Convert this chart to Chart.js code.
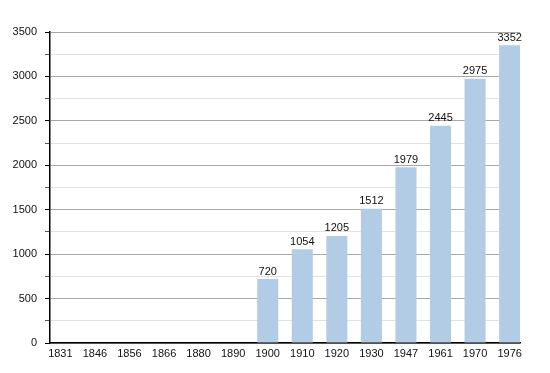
<!DOCTYPE html>
<html>
<head>
<meta charset="utf-8">
<script src="https://cdn.jsdelivr.net/npm/chart.js"></script>
<style>
  html, body { margin: 0; padding: 0; background: #fff; }
  #wrap { width: 550px; height: 373px; }
</style>
</head>
<body>
<div id="wrap"><canvas id="chart"></canvas></div>
<script>
const years = ['1831', '1846', '1856', '1866', '1880', '1890', '1900', '1910', '1920', '1930', '1947', '1961', '1970', '1976']
const population = [null, null, null, null, null, null, 720, 1054, 1205, 1512, 1979, 2445, 2975, 3352]
const yMax = 3500
const yStep = 250

// value labels above each bar
const barLabels = {
    id: 'barLabels',
    afterDatasetsDraw(chart) {
        const ctx = chart.ctx
        const meta = chart.getDatasetMeta(0)
        ctx.save()
        ctx.font = '11px "Liberation Sans", Arial, sans-serif'
        ctx.fillStyle = '#111'
        ctx.textAlign = 'center'
        ctx.textBaseline = 'bottom'
        meta.data.forEach((bar, i) => {
            const v = population[i]
            if (v == null) return
            ctx.fillText(String(v), bar.x, bar.y - 2)
        })
        ctx.restore()
    }
}

Chart.defaults.font.family = '"Liberation Sans", Arial, sans-serif'
Chart.defaults.font.size = 11
Chart.defaults.color = '#111'

new Chart(document.getElementById('chart'), {
    type: 'bar',
    data: {
        datasets: [{
            data: years.map((y, i) => ({ x: i, y: population[i] })),
            backgroundColor: '#b3cce5',
            borderWidth: 0,
            categoryPercentage: 1,
            barPercentage: 0.61
        }]
    },
    options: {
        responsive: true,
        maintainAspectRatio: false,
        animation: false,
        devicePixelRatio: 1,
        layout: { padding: { top: 32, right: 30, left: 0, bottom: 0 } },
        plugins: { legend: { display: false }, tooltip: { enabled: false } },
        scales: {
            x: {
                type: 'linear',
                min: -0.3,
                max: years.length - 1 + 0.3,
                offset: false,
                grid: { display: false, drawTicks: false },
                border: { color: '#000', width: 1.5 },
                ticks: {
                    padding: 4,
                    maxRotation: 0,
                    autoSkip: false,
                    callback: v => years[v] ?? ''
                },
                afterBuildTicks(scale) { scale.ticks = years.map((y, i) => ({ value: i })) },
                afterFit(scale) { scale.height = 30 }
            },
            y: {
                min: 0,
                max: yMax,
                border: { color: '#000', width: 1.5 },
                grid: {
                    color: c => (c.tick && c.tick.value % 500 === 0) ? '#a8a8a8' : '#e2e2e2',
                    tickColor: c => (c.tick && c.tick.value % 500 === 0) ? '#000' : '#555',
                    tickLength: 5,
                    lineWidth: 1
                },
                ticks: {
                    stepSize: yStep,
                    padding: 8,
                    callback: v => v % 500 === 0 ? v : ''
                },
                afterFit(scale) { scale.width = 50 }
            }
        }
    },
    plugins: [barLabels]
})
</script>
</body>
</html>
